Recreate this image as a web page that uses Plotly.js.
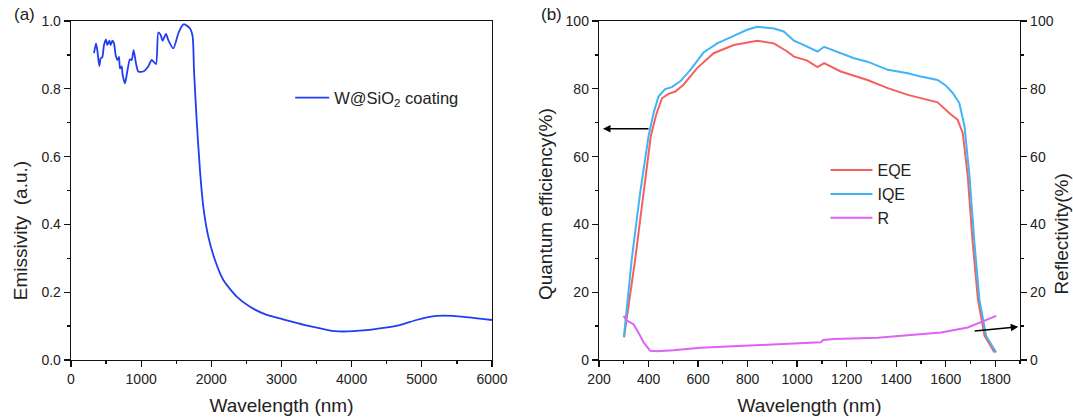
<!DOCTYPE html>
<html><head><meta charset="utf-8">
<script src="https://cdn.plot.ly/plotly-3.0.1.min.js"></script>
<style>html,body{margin:0;padding:0;background:#fff}#c{width:1073px;height:419px}</style>
</head><body><div id="c"></div>
<script>
// (a) Emissivity
const emisWl = [328,356,375,403,423,446,470,499,517,546,565,589,613,636,660,684,698,722,736,769,802,840,865,893,926,959,1030,1101,1150,1211,1244,1278,1306,1353,1386,1458,1529,1576,1610,1696,1734,1753,1791,1838,1886,1957,2052,2171,2361,2551,2789,3024,3405,3761,4212,4687,4924,5209,5446,6000];
const emisVal = [0.905,0.934,0.914,0.867,0.890,0.893,0.929,0.946,0.929,0.942,0.929,0.942,0.934,0.900,0.885,0.894,0.860,0.866,0.841,0.816,0.851,0.887,0.885,0.914,0.875,0.851,0.851,0.866,0.885,0.873,0.966,0.959,0.942,0.962,0.944,0.919,0.963,0.984,0.991,0.978,0.954,0.855,0.708,0.560,0.452,0.364,0.295,0.236,0.187,0.157,0.133,0.120,0.100,0.085,0.088,0.103,0.118,0.130,0.130,0.118];

// (b) Quantum efficiency and reflectivity
const iqeWl = [301,332,366,400,420,440,467,494,528,569,622,677,744,798,839,906,946,987,1028,1082,1109,1176,1230,1284,1366,1447,1500,1567,1600,1629,1655,1676,1696,1716,1736,1763,1804];
const iqeVal = [7.1,29.7,49.3,66.0,72.8,77.7,79.9,80.5,82.2,85.6,90.7,93.4,95.6,97.4,98.3,97.8,96.9,94.2,92.9,91.0,92.4,90.5,89.0,88.0,85.6,84.6,83.6,82.6,81.0,78.7,75.8,68.9,54.2,34.6,17.9,7.1,2.2];
const eqeWl = [301,346,380,409,431,454,481,508,541,596,663,744,839,906,960,987,1041,1082,1109,1176,1284,1366,1447,1500,1567,1621,1648,1669,1689,1709,1730,1757,1797];
const eqeVal = [6.7,29.7,49.3,66.0,72.4,77.2,78.5,79.2,81.2,86.1,90.5,92.9,94.2,93.4,91.0,89.5,88.3,86.4,87.6,85.1,82.6,80.2,78.2,77.2,76.0,72.4,70.9,66.9,54.2,34.6,17.9,7.1,2.2];
const rWl = [299,312,326,340,360,380,407,434,500,609,852,1000,1095,1105,1148,1325,1500,1581,1689,1743,1804];
const rVal = [13.0,11.6,11.1,10.5,8.0,5.2,2.7,2.6,2.9,3.6,4.4,4.9,5.2,5.9,6.2,6.6,7.6,8.1,9.6,11.1,13.0];

const FAM = 'Liberation Sans, Arial, sans-serif';
const txt = '#222';
const tf = {family:FAM, size:14, color:txt};
const titf = {family:FAM, size:19, color:txt};
const mn = (d)=>({dtick:d, ticks:'outside', ticklen:3, tickwidth:1.3, tickcolor:'#111', showgrid:false});
function ax(extra){
  return Object.assign({showline:true, linecolor:'#111', linewidth:1.3, mirror:true, ticks:'outside', ticklen:6, tickwidth:1.3, tickcolor:'#111',
    showgrid:false, zeroline:false, tickfont:tf, automargin:false}, extra);
}

const data = [
  {x:emisWl, y:emisVal, type:'scatter', mode:'lines', name:'W@SiO<sub>2</sub> coating', line:{color:'#1F3DF2', width:1.8, shape:'spline', smoothing:0.6}, xaxis:'x', yaxis:'y', legend:'legend'},
  {x:eqeWl, y:eqeVal, type:'scatter', mode:'lines', name:'EQE', line:{color:'#F4605E', width:2}, xaxis:'x2', yaxis:'y2', legend:'legend2'},
  {x:iqeWl, y:iqeVal, type:'scatter', mode:'lines', name:'IQE', line:{color:'#41B4F6', width:2}, xaxis:'x2', yaxis:'y2', legend:'legend2'},
  {x:rWl, y:rVal, type:'scatter', mode:'lines', name:'R', line:{color:'#DD63F5', width:2}, xaxis:'x2', yaxis:'y3', legend:'legend2'}
];

const layout = {
  width:1073, height:419, paper_bgcolor:'#fff', plot_bgcolor:'#fff',
  margin:{l:71, r:53, t:21, b:59},
  font:{family:FAM, color:txt},
  xaxis: ax({domain:[0,0.4436], range:[0,6000], dtick:1000, tick0:0, minor:mn(500), anchor:'y', title:{text:'Wavelength (nm)', font:titf, standoff:12}}),
  yaxis: ax({range:[0,1], dtick:0.2, tick0:0, tickformat:'.1f', minor:mn(0.1), anchor:'x'}),
  xaxis2: ax({domain:[0.5564,1], range:[200,1900], dtick:200, tick0:200, minor:mn(100), anchor:'y2', title:{text:'Wavelength (nm)', font:titf, standoff:12}}),
  yaxis2: ax({range:[0,100], dtick:20, tick0:0, mirror:false, minor:mn(10), anchor:'x2'}),
  yaxis3: ax({range:[0,100], dtick:20, tick0:0, mirror:false, overlaying:'y2', side:'right', anchor:'x2', minor:mn(10)}),
  showlegend:true,
  legend:{x:0.231, y:0.825, xanchor:'left', yanchor:'top', bgcolor:'rgba(0,0,0,0)', font:{family:FAM, size:16.5, color:txt}, itemwidth:34},
  legend2:{x:0.795, y:0.61, xanchor:'left', yanchor:'top', bgcolor:'rgba(0,0,0,0)', font:{family:FAM, size:16, color:txt}, itemwidth:42, tracegroupgap:0},
  annotations:[
    {xref:'paper', yref:'paper', x:-0.062, y:1.018, text:'(a)', showarrow:false, xanchor:'left', yanchor:'middle', font:{family:FAM, size:17, color:txt}},
    {xref:'paper', yref:'paper', x:0.493, y:1.018, text:'(b)', showarrow:false, xanchor:'left', yanchor:'middle', font:{family:FAM, size:17, color:txt}},
    {xref:'paper', yref:'paper', x:-0.0537, y:0.38, text:'Emissivity\u00a0\u00a0(a.u.)', textangle:-90, showarrow:false, xanchor:'center', yanchor:'middle', font:titf},
    {xref:'paper', yref:'paper', x:0.4995, y:0.46, text:'Quantum efficiency(%)', textangle:-90, showarrow:false, xanchor:'center', yanchor:'middle', font:titf},
    {xref:'paper', yref:'paper', x:1.0443, y:0.37, text:'Reflectivity(%)', textangle:-90, showarrow:false, xanchor:'center', yanchor:'middle', font:titf},
    {xref:'x2', yref:'y2', axref:'x2', ayref:'y2', x:216, y:68.2, ax:406, ay:68.2, text:'', showarrow:true, arrowhead:2, arrowsize:1, arrowwidth:1.5, arrowcolor:'#000'},
    {xref:'x2', yref:'y2', axref:'x2', ayref:'y2', x:1893, y:9.8, ax:1711, ay:8.5, text:'', showarrow:true, arrowhead:2, arrowsize:1, arrowwidth:1.5, arrowcolor:'#000'}
  ]
};
Plotly.newPlot('c', data, layout, {displayModeBar:false, staticPlot:true});
</script></body></html>
